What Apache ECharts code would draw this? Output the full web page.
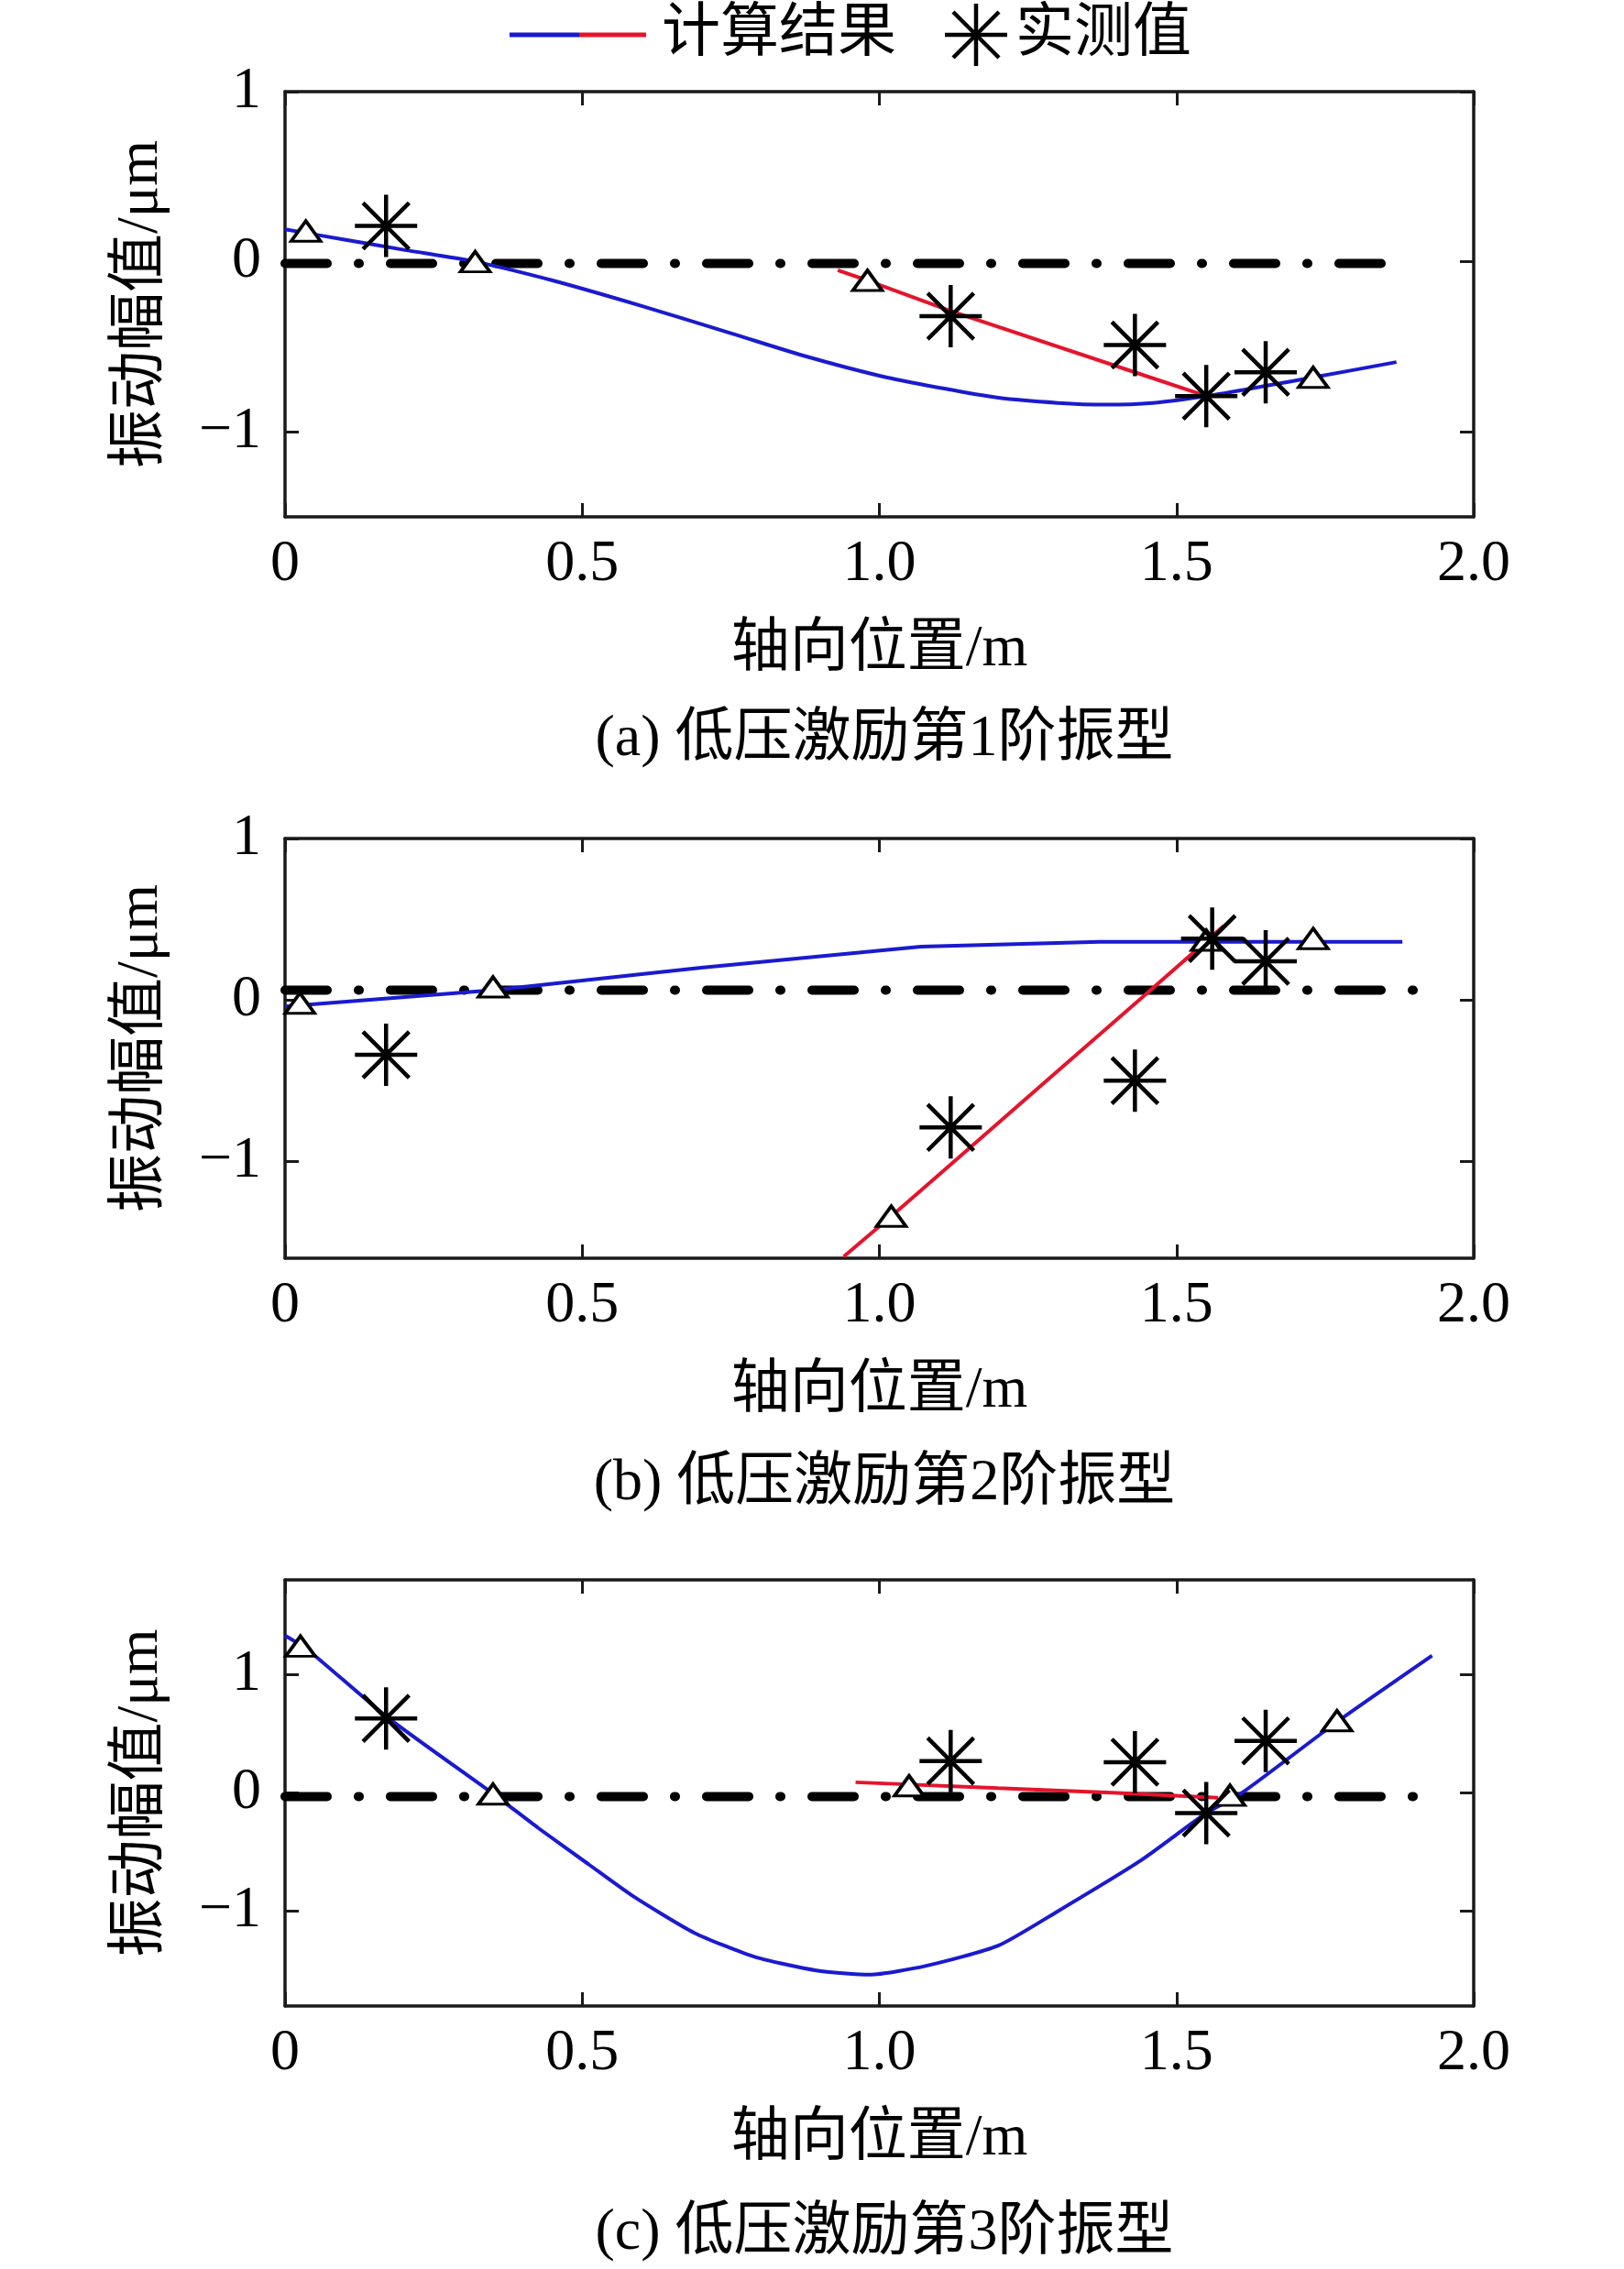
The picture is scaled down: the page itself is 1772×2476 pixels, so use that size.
<!DOCTYPE html>
<html>
<head>
<meta charset="utf-8">
<script src="https://cdn.jsdelivr.net/npm/echarts@6/dist/echarts.min.js"></script>
<style>
  html, body { margin: 0; padding: 0; background: #fff; }
  #chart { width: 1772px; height: 2476px; }
</style>
</head>
<body>
<div id="chart"></div>
<script>
// x ticks and y ranges per panel
const xTicks = [0, 0.5, 1.0, 1.5, 2.0]
const yTicks = [-1, 0, 1]
const yRanges = [[-1.5, 1], [-1.6, 1], [-1.8, 1.8]]
const captions = ['(a) 低压激励第1阶振型', '(b) 低压激励第2阶振型', '(c) 低压激励第3阶振型']

// reference (dash-dot) line: [x, y] end points
const refA = [[0, -0.01], [1.88, -0.01]]
const refB = [[0, 0.06], [1.90, 0.06]]
const refC = [[0, -0.03], [1.94, -0.03]]

// computed result, blue part
const blueA = [[0, 0.19], [0.1, 0.13], [0.2, 0.07], [0.32, 0.0], [0.45, -0.11], [0.6, -0.26],
  [0.75, -0.42], [0.88, -0.56], [1.0, -0.67], [1.1, -0.74], [1.2, -0.8], [1.3, -0.83],
  [1.38, -0.84], [1.46, -0.83], [1.55, -0.79], [1.65, -0.73], [1.73, -0.68], [1.87, -0.59]]
const blueB = [[0, -0.04], [0.35, 0.06], [0.7, 0.2], [1.07, 0.33], [1.37, 0.36], [1.88, 0.36]]
const blueC = [[0, 1.33], [0.038, 1.21], [0.172, 0.64], [0.351, -0.01], [0.427, -0.3], [0.51, -0.6],
  [0.585, -0.87], [0.688, -1.18], [0.79, -1.385], [0.894, -1.5], [0.984, -1.535], [1.079, -1.46],
  [1.2, -1.29], [1.3, -1.0], [1.44, -0.57], [1.55, -0.17], [1.61, 0.0], [1.77, 0.6], [1.93, 1.16]]

// computed result, red part
const redA = [[0.93, -0.05], [0.98, -0.11], [1.12, -0.29], [1.43, -0.65], [1.55, -0.79]]
const redB = [[0.94, -1.59], [1.02, -1.34], [1.12, -1.02], [1.3, -0.44], [1.45, 0.04], [1.58, 0.46]]
const redC = [[0.96, 0.09], [1.2, 0.04], [1.4, 0.0], [1.57, -0.04]]

// triangle markers
const triA = [[0.035, 0.18], [0.32, 0.0], [0.98, -0.11], [1.73, -0.68]]
const triB = [[0.025, -0.02], [0.35, 0.08], [1.02, -1.34], [1.55, 0.37], [1.73, 0.38]]
const triC = [[0.026, 1.24], [0.35, -0.01], [1.05, 0.06], [1.59, -0.02], [1.77, 0.61]]

// measured values
const measA = [[0.17, 0.21], [1.12, -0.32], [1.43, -0.49], [1.55, -0.79], [1.65, -0.65]]
const measB = [[0.17, -0.34], [1.12, -0.79], [1.43, -0.5], [1.56, 0.38], [1.65, 0.24]]
const measC = [[0.17, 0.63], [1.12, 0.27], [1.43, 0.26], [1.55, -0.17], [1.65, 0.44]]

const BLUE = '#1a1ad0'
const RED = '#e5142c'
const FONT = "'Liberation Serif', 'Noto Sans CJK SC', serif"
const STAR = 'path://M0 -10 L0 10 M-10 0 L10 0 M-7.4 -7.4 L7.4 7.4 M-7.4 7.4 L7.4 -7.4'

const panels = [
  { top: 100, height: 464, ref: refA, blue: blueA, red: redA, tri: triA, meas: measA, smooth: 0.3 },
  { top: 915, height: 458, ref: refB, blue: blueB, red: redB, tri: triB, meas: measB, smooth: false },
  { top: 1724, height: 465, ref: refC, blue: blueC, red: redC, tri: triC, meas: measC, smooth: 0.2 }
]

const axisLine = { show: true, onZero: false, lineStyle: { color: '#1a1a1a', width: 3.5 } }
const tickStyle = { lineStyle: { color: '#1a1a1a', width: 3 } }
const fmtY = v => (v < 0 ? '\u2212' + Math.abs(v) : String(v))
const fmtX = v => (v === 0 ? '0' : v.toFixed(1))

const grid = [], xAxis = [], yAxis = [], series = [], title = []

panels.forEach((p, i) => {
  grid.push({ left: 311, width: 1297, top: p.top, height: p.height })
  xAxis.push({
    type: 'value', gridIndex: i, min: 0, max: 2, interval: 0.5, position: 'bottom',
    axisLine, splitLine: { show: false },
    axisTick: { inside: true, length: 15, ...tickStyle },
    axisLabel: { formatter: fmtX, fontFamily: FONT, fontSize: 64, color: '#000', margin: 20 },
    name: '轴向位置/m', nameLocation: 'middle', nameGap: 113,
    nameTextStyle: { fontFamily: FONT, fontSize: 64, color: '#000' }
  })
  xAxis.push({
    type: 'value', gridIndex: i, min: 0, max: 2, interval: 0.5, position: 'top',
    axisLine, splitLine: { show: false },
    axisTick: { inside: true, length: 15, ...tickStyle },
    axisLabel: { show: false }
  })
  const [lo, hi] = yRanges[i]
  yAxis.push({
    type: 'value', gridIndex: i, min: lo, max: hi, position: 'left',
    axisLine, splitLine: { show: false },
    axisTick: { inside: true, length: 15, customValues: yTicks, ...tickStyle },
    axisLabel: { customValues: yTicks, formatter: fmtY, fontFamily: FONT, fontSize: 64, color: '#000', margin: 26 },
    name: '振动幅值/μm', nameLocation: 'middle', nameGap: 125,
    nameTextStyle: { fontFamily: FONT, fontSize: 64, color: '#000' }
  })
  yAxis.push({
    type: 'value', gridIndex: i, min: lo, max: hi, position: 'right',
    axisLine, splitLine: { show: false },
    axisTick: { inside: true, length: 15, customValues: yTicks, ...tickStyle },
    axisLabel: { show: false }
  })

  const xi = i * 2, yi = i * 2
  series.push({
    type: 'line', xAxisIndex: xi, yAxisIndex: yi, data: p.ref, symbol: 'none', z: 1,
    lineStyle: { color: '#000', width: 10, type: [46, 34, 1, 34], cap: 'round' }
  })
  series.push({
    type: 'line', xAxisIndex: xi, yAxisIndex: yi, data: p.blue, symbol: 'none', z: 2,
    smooth: p.smooth, lineStyle: { color: BLUE, width: 4 }
  })
  series.push({
    type: 'line', xAxisIndex: xi, yAxisIndex: yi, data: p.red, symbol: 'none', z: 3,
    lineStyle: { color: RED, width: 4 }
  })
  series.push({
    type: 'scatter', xAxisIndex: xi, yAxisIndex: yi, data: p.tri, z: 4,
    symbol: 'triangle', symbolSize: [32, 22],
    itemStyle: { color: '#fff', borderColor: '#000', borderWidth: 3.5, opacity: 1 }
  })
  series.push({
    type: 'scatter', xAxisIndex: xi, yAxisIndex: yi, data: p.meas, z: 5,
    symbol: STAR, symbolSize: 68,
    itemStyle: { color: 'transparent', borderColor: '#000', borderWidth: 4.5, opacity: 1 }
  })

  title.push({
    text: captions[i], left: 960, top: [770, 1582, 2400][i], textAlign: 'center',
    textStyle: { fontFamily: FONT, fontSize: 64, fontWeight: 'normal', color: '#000' }
  })
})

// legend drawn as graphic
const starArm = (x1, y1, x2, y2) => ({
  type: 'line', shape: { x1: 1065 + x1, y1: 38 + y1, x2: 1065 + x2, y2: 38 + y2 },
  style: { stroke: '#000', lineWidth: 4.5 }
})
const graphic = [
  { type: 'line', shape: { x1: 556, y1: 38, x2: 632, y2: 38 }, style: { stroke: BLUE, lineWidth: 5 } },
  { type: 'line', shape: { x1: 632, y1: 38, x2: 705, y2: 38 }, style: { stroke: RED, lineWidth: 5 } },
  { type: 'text', x: 722, y: 38, style: { text: '计算结果', font: '64px ' + FONT, fill: '#000', verticalAlign: 'middle' } },
  starArm(0, -34, 0, 34), starArm(-34, 0, 34, 0), starArm(-25, -25, 25, 25), starArm(-25, 25, 25, -25),
  { type: 'text', x: 1108, y: 38, style: { text: '实测值', font: '64px ' + FONT, fill: '#000', verticalAlign: 'middle' } }
]

const chart = echarts.init(document.getElementById('chart'))
chart.setOption({
  backgroundColor: '#fff',
  animation: false,
  title, grid, xAxis, yAxis, series, graphic
})
</script>
</body>
</html>
